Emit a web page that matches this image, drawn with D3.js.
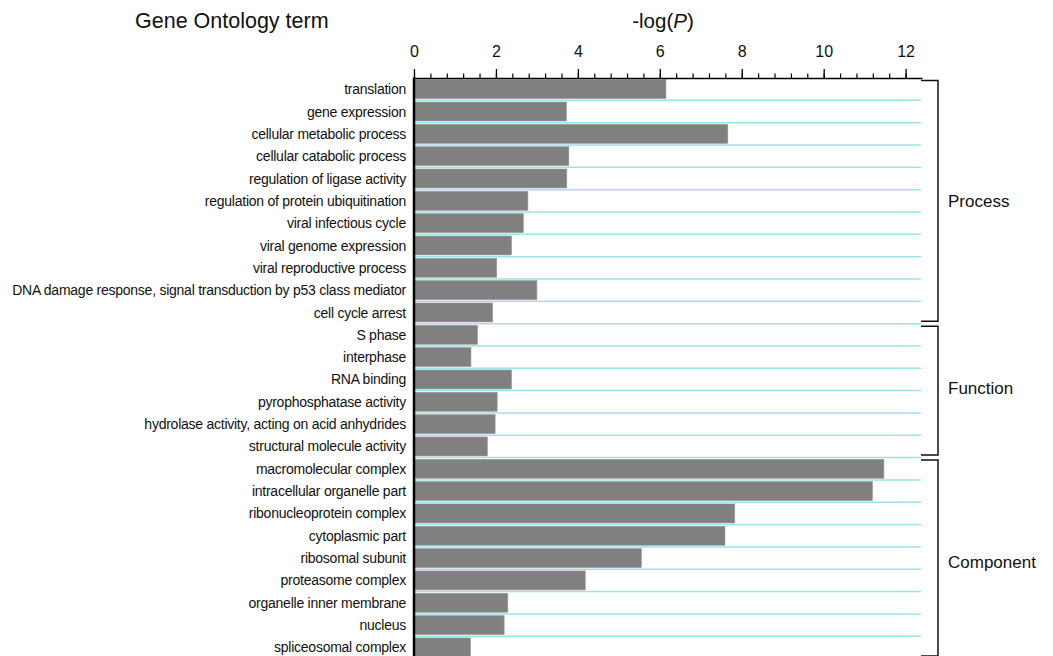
<!DOCTYPE html>
<html>
<head>
<meta charset="utf-8">
<script src="https://cdn.jsdelivr.net/npm/d3@7"></script>
<style>
  html, body { margin: 0; padding: 0; background: #fff; }
  svg { display: block; font-family: "Liberation Sans", Arial, sans-serif; }
</style>
</head>
<body>
<svg id="chart" width="1053" height="656"></svg>
<script>
// GO terms, top to bottom
const terms = [
  "translation",
  "gene expression",
  "cellular metabolic process",
  "cellular catabolic process",
  "regulation of ligase activity",
  "regulation of protein ubiquitination",
  "viral infectious cycle",
  "viral genome expression",
  "viral reproductive process",
  "DNA damage response, signal transduction by p53 class mediator",
  "cell cycle arrest",
  "S phase",
  "interphase",
  "RNA binding",
  "pyrophosphatase activity",
  "hydrolase activity, acting on acid anhydrides",
  "structural molecule activity",
  "macromolecular complex",
  "intracellular organelle part",
  "ribonucleoprotein complex",
  "cytoplasmic part",
  "ribosomal subunit",
  "proteasome complex",
  "organelle inner membrane",
  "nucleus",
  "spliceosomal complex"
];

// -log(P) enrichment for each term
const negLogP = [
  6.15, 3.72, 7.66, 3.78, 3.73, 2.78, 2.67, 2.38, 2.02, 3.00, 1.92,
  1.55, 1.39, 2.38, 2.03, 1.98, 1.79,
  11.47, 11.19, 7.83, 7.59, 5.55, 4.18, 2.29, 2.20, 1.38
];

// GO categories and how many consecutive terms each one covers
const groupNames = ["Process", "Function", "Component"];
const groupSizes = [11, 6, 9];

// axis ticks
const majorTicks = [0, 2, 4, 6, 8, 10, 12];
const minorTicks = d3.range(0, 12.01, 0.4);

const svg = d3.select("#chart");

const plotLeft = 414, plotRight = 922, plotTop = 78, rowH = 22.33;
const plotBottom = plotTop + terms.length * rowH;

const x = d3.scaleLinear().domain([0, 12.4]).range([plotLeft, plotRight]);
const y = d3.scaleBand()
  .domain(terms)
  .range([plotTop, plotBottom])
  .paddingInner(0.15)
  .paddingOuter(0.075);

// start of the row slot that holds a term
const rowStart = d => y(d) - y.step() * y.paddingOuter();

// horizontal row separators
svg.append("g")
  .selectAll("line")
  .data(terms)
  .join("line")
  .attr("x1", plotLeft)
  .attr("x2", x(12.4) - 1)
  .attr("y1", d => rowStart(d) + y.step())
  .attr("y2", d => rowStart(d) + y.step())
  .attr("stroke", "#9fe1e6")
  .attr("stroke-width", 1.5);

// bars
svg.append("g")
  .selectAll("rect")
  .data(terms)
  .join("rect")
  .attr("x", x(0))
  .attr("y", d => y(d))
  .attr("width", (d, i) => x(negLogP[i]) - x(0))
  .attr("height", y.bandwidth())
  .attr("fill", "#808080")
  .attr("stroke", "#9a9a9a")
  .attr("stroke-width", 0.6);

// top axis: minor ticks
svg.append("g")
  .attr("transform", `translate(0,${plotTop})`)
  .call(d3.axisTop(x).tickValues(minorTicks).tickSize(4.5).tickSizeOuter(0).tickFormat(""))
  .call(g => g.select(".domain").remove())
  .call(g => g.selectAll("line").attr("stroke", "#000").attr("stroke-width", 1.2));

// top axis: major ticks and labels
svg.append("g")
  .attr("transform", `translate(0,${plotTop})`)
  .call(d3.axisTop(x).tickValues(majorTicks).tickSize(9).tickSizeOuter(0).tickPadding(12).tickFormat(d3.format("d")))
  .call(g => g.select(".domain").attr("stroke", "#000").attr("stroke-width", 1.5))
  .call(g => g.selectAll("line").attr("stroke", "#000").attr("stroke-width", 1.3))
  .call(g => g.selectAll("text")
    .attr("font-family", "'Liberation Sans', Arial, sans-serif")
    .attr("font-size", 16)
    .attr("fill", "#111"));

// left axis line
svg.append("line")
  .attr("x1", plotLeft).attr("x2", plotLeft)
  .attr("y1", plotTop - 0.5).attr("y2", 660)
  .attr("stroke", "#000")
  .attr("stroke-width", 2.5);

// term labels
svg.append("g")
  .selectAll("text")
  .data(terms)
  .join("text")
  .attr("x", 406)
  .attr("y", d => y(d) + y.bandwidth() / 2)
  .attr("dy", "0.36em")
  .attr("text-anchor", "end")
  .attr("font-size", 14)
  .attr("letter-spacing", -0.25)
  .attr("fill", "#111")
  .text(d => d);

// category brackets
const bx0 = x(12.4) - 1, bx1 = 938;
const labelShift = [0, -3, 4];
let start = 0;
groupNames.forEach((name, gi) => {
  const first = terms[start];
  const last = terms[start + groupSizes[gi] - 1];
  const y0 = rowStart(first) + 2.5;
  const y1 = rowStart(last) + y.step() - 2.5;
  svg.append("path")
    .attr("d", `M${bx0},${y0}H${bx1}V${y1}H${bx0}`)
    .attr("fill", "none")
    .attr("stroke", "#111")
    .attr("stroke-width", 1.5);
  svg.append("text")
    .attr("x", 948)
    .attr("y", (y0 + y1) / 2 + labelShift[gi])
    .attr("dy", "0.36em")
    .attr("font-size", 17)
    .attr("fill", "#111")
    .text(name);
  start += groupSizes[gi];
});

// titles
svg.append("text")
  .attr("x", 135)
  .attr("y", 28)
  .attr("font-size", 21.5)
  .attr("fill", "#111")
  .text("Gene Ontology term");

const xt = svg.append("text")
  .attr("x", 663)
  .attr("y", 28)
  .attr("text-anchor", "middle")
  .attr("font-size", 20.5)
  .attr("fill", "#111");
xt.append("tspan").text("-log(");
xt.append("tspan").attr("font-style", "italic").text("P");
xt.append("tspan").text(")");
</script>
</body>
</html>
